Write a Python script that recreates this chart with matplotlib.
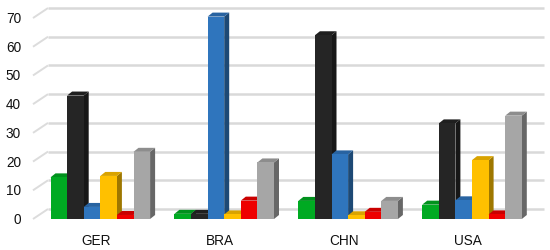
import numpy as np
import matplotlib
matplotlib.use("Agg")
import matplotlib.pyplot as plt
from matplotlib.patches import Polygon
from matplotlib.colors import to_rgb

plt.rcParams["font.family"] = ["Liberation Sans", "DejaVu Sans"]

categories = ["GER", "BRA", "CHN", "USA"]
green = [14.5, 1.8, 6.3, 5.0]
black = [43.0, 1.8, 64.0, 33.3]
blue = [4.2, 70.5, 22.5, 6.5]
yellow = [15.0, 1.6, 1.3, 20.5]
red = [1.4, 6.4, 2.5, 1.6]
gray = [23.4, 19.7, 6.3, 36.0]
yticks = [0, 10, 20, 30, 40, 50, 60, 70]

series = [green, black, blue, yellow, red, gray]
colors = ["#00aa22", "#252525", "#2f75bd", "#ffc000", "#ee0000", "#a6a6a6"]

W, H = 550, 251
fig = plt.figure(figsize=(W / 100, H / 100), dpi=100)

# axes placed in pixels: back wall from x=48 to 544, value 0 at y=31 from bottom
left_px, right_px = 48, 544
bottom_px, top_px = 31, 246
ax = fig.add_axes([left_px / W, bottom_px / H, (right_px - left_px) / W, (top_px - bottom_px) / H])

px_x = 123.9          # pixels per category
px_y = 2.871          # pixels per unit value
x0 = -(100.3 - left_px) / px_x
ax.set_xlim(x0, x0 + (right_px - left_px) / px_x)
ax.set_ylim(0, (top_px - bottom_px) / px_y)
ax.axis("off")

# gridlines on the back wall, with a slanted piece on the left side wall
wall_dy = 10 / px_y
slant_x = x0 - 15 / px_x
for v in yticks:
    ax.plot([slant_x, x0], [v, v + wall_dy], color="#dcdcdc", lw=1.4,
            clip_on=False, zorder=0, solid_capstyle="butt")
    ax.plot([x0, x0 + (right_px - left_px) / px_x], [v + wall_dy, v + wall_dy],
            color="#d9d9d9", lw=1.8, clip_on=False, zorder=0, solid_capstyle="butt")
    ax.text(x0 - 27 / px_x, v, str(v), ha="right", va="center", fontsize=9.8,
            color="#111111")


def shade(c, f):
    r, g, b = to_rgb(c)
    return (r * f, g * f, b * f)


bw = 16.6 / px_x
dx = 5 / px_x
dy = 4 / px_y
z = 2
for i in range(len(categories)):
    start = i - 3 * bw
    for j, vals in enumerate(series):
        v = vals[i]
        xl = start + j * bw
        xr = xl + bw
        col = colors[j]
        side = Polygon([(xr, 0), (xr + dx, dy), (xr + dx, v + dy), (xr, v)],
                       closed=True, fc=shade(col, 0.62), ec="none", zorder=z)
        top = Polygon([(xl, v), (xl + dx, v + dy), (xr + dx, v + dy), (xr, v)],
                      closed=True, fc=shade(col, 0.85), ec="none", zorder=z)
        ax.add_patch(side)
        ax.add_patch(top)
        ax.bar(xl, v, width=bw, align="edge", color=col, zorder=z + 1)
        z += 2
    ax.text(i - 4 / px_x, -21 / px_y, categories[i], ha="center", va="center",
            fontsize=9.8, color="#111111")

fig.savefig("out.png", dpi=100)
